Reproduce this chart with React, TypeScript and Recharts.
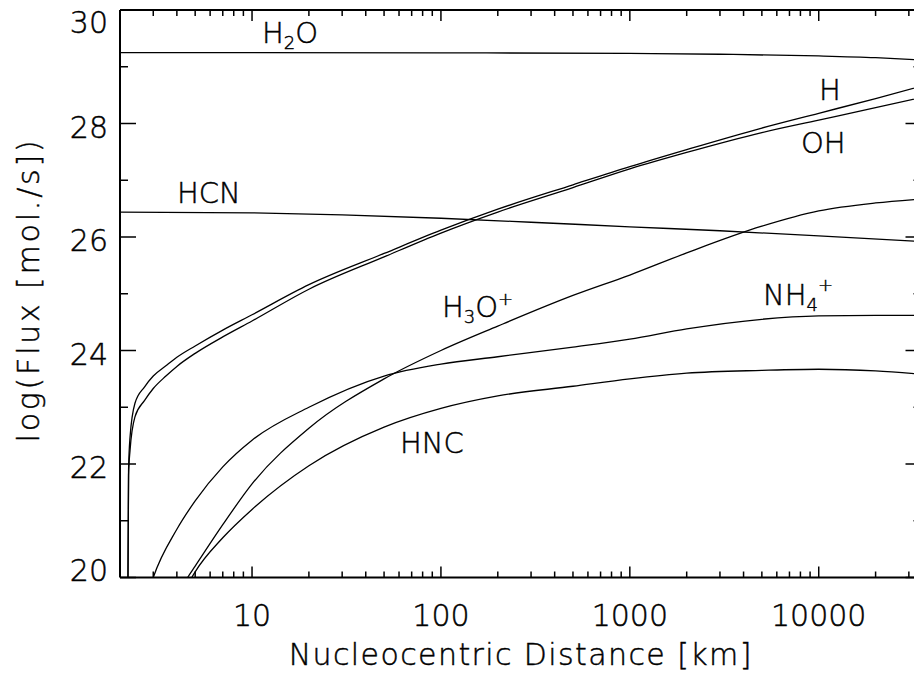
import React from 'react'
import { LineChart, Line, XAxis, YAxis } from 'recharts'

// nucleocentric distance [km] vs log flux [mol./s], one array per species
const H2O: [number, number][] = [[2, 29.25], [10, 29.25], [100, 29.245], [1000, 29.235], [3000, 29.22], [10000, 29.19], [20000, 29.16], [35000, 29.12]]
const HCN: [number, number][] = [[2, 26.44], [10, 26.425], [30, 26.39], [100, 26.33], [300, 26.26], [1000, 26.18], [3000, 26.11], [10000, 26.02], [35000, 25.92]]
const H: [number, number][] = [[2.2, 19.5], [2.22, 21.9], [2.26, 22.47], [2.4, 23.07], [2.7, 23.36], [3, 23.55], [3.5, 23.73], [4, 23.88], [5, 24.08], [7, 24.36], [10, 24.63], [20, 25.16], [50, 25.71], [100, 26.12], [200, 26.49], [500, 26.92], [1000, 27.24], [2000, 27.54], [5000, 27.92], [10000, 28.18], [20000, 28.44], [35000, 28.66]]
const OH: [number, number][] = [[2.2, 19.5], [2.22, 21.8], [2.26, 22.24], [2.4, 22.83], [2.7, 23.12], [3, 23.33], [3.5, 23.55], [4, 23.72], [5, 23.95], [7, 24.24], [10, 24.52], [20, 25.08], [50, 25.65], [100, 26.07], [200, 26.44], [500, 26.87], [1000, 27.2], [2000, 27.49], [5000, 27.84], [10000, 28.06], [20000, 28.28], [35000, 28.46]]
const H3O: [number, number][] = [[4.2, 19.8], [4.56, 20], [5, 20.2], [7, 20.93], [10, 21.65], [20, 22.63], [50, 23.5], [100, 24.0], [200, 24.43], [500, 24.97], [1000, 25.33], [2000, 25.72], [5000, 26.19], [10000, 26.46], [20000, 26.6], [35000, 26.67]]
const NH4: [number, number][] = [[2.9, 19.85], [3, 20], [4, 20.85], [5, 21.35], [7, 21.95], [10, 22.42], [20, 23.0], [50, 23.55], [100, 23.76], [200, 23.89], [500, 24.06], [1000, 24.2], [2000, 24.38], [5000, 24.55], [10000, 24.61], [20000, 24.62], [35000, 24.62]]
const HNC: [number, number][] = [[4.6, 19.85], [4.8, 20], [5, 20.1], [7, 20.7], [10, 21.2], [20, 21.97], [50, 22.65], [100, 22.98], [200, 23.2], [500, 23.37], [1000, 23.5], [2000, 23.6], [5000, 23.65], [10000, 23.67], [20000, 23.64], [35000, 23.58]]

const xMajor = [10, 100, 1000, 10000]
const xTicks = [3, 4, 5, 6, 7, 8, 9, 10, 20, 30, 40, 50, 60, 70, 80, 90, 100, 200, 300, 400, 500, 600, 700, 800, 900,
  1000, 2000, 3000, 4000, 5000, 6000, 7000, 8000, 9000, 10000, 20000, 30000]
const yMajor = [20, 22, 24, 26, 28, 30]
const yTicks = [20, 21, 22, 23, 24, 25, 26, 27, 28, 29, 30]

const series = [H2O, HCN, H, OH, H3O, NH4, HNC]
const toPoints = (pts: [number, number][]) => pts.map(([d, f]) => ({ d, f }))

const font = "'DejaVu Sans', sans-serif"
const ink = '#000'
const txt = { fontFamily: font, fontWeight: 200, fill: ink, stroke: ink, strokeWidth: 0.45 } as const

const BottomTick = ({ x, y, payload }: any) => {
  const major = xMajor.includes(payload.value)
  return (
    <g>
      <line x1={x} x2={x} y1={y} y2={y - (major ? 11 : 6)} stroke={ink} strokeWidth={1.5} />
      {major && (
        <text x={x} y={y + 48} textAnchor="middle" fontSize={30} {...txt}>
          {payload.value}
        </text>
      )}
    </g>
  )
}

const TopTick = ({ x, y, payload }: any) => {
  const major = xMajor.includes(payload.value)
  return <line x1={x} x2={x} y1={y} y2={y + (major ? 11 : 6)} stroke={ink} strokeWidth={1.5} />
}

// the end labels are nudged inside the frame
const yLabelShift = (v: number) => (v === 30 ? 23 : v === 20 ? 3 : 14)

const LeftTick = ({ x, y, payload }: any) => {
  const major = yMajor.includes(payload.value)
  return (
    <g>
      <line x1={x} x2={x + (major ? 16 : 8)} y1={y} y2={y} stroke={ink} strokeWidth={1.5} />
      {major && (
        <text x={x - 12} y={y + yLabelShift(payload.value)} textAnchor="end" fontSize={30} {...txt}>
          {payload.value}
        </text>
      )}
    </g>
  )
}

const RightTick = ({ x, y, payload }: any) => {
  const major = yMajor.includes(payload.value)
  return <line x1={x} x2={x - (major ? 16 : 8)} y1={y} y2={y} stroke={ink} strokeWidth={1.5} />
}

const sub = 18

export default function App() {
  return (
    <div style={{ position: 'absolute', left: 0, top: 0, width: 914, height: 678, overflow: 'hidden', background: '#fff' }}>
      <LineChart width={930} height={678} margin={{ top: 0, right: 0, bottom: 0, left: 0 }}>
        <XAxis
          xAxisId="b"
          dataKey="d"
          type="number"
          scale="log"
          domain={[2, 35000]}
          allowDataOverflow
          ticks={xTicks}
          interval={0}
          height={100.5}
          tickSize={0}
          tickMargin={0}
          tickLine={false}
          axisLine={{ stroke: ink, strokeWidth: 2 }}
          tick={<BottomTick />}
          label={{
            content: ({ viewBox }: any) => (
              <text x={viewBox.x + viewBox.width / 2} y={665} textAnchor="middle" fontSize={30} letterSpacing={1.4} {...txt}>
                Nucleocentric Distance [km]
              </text>
            ),
          }}
        />
        <XAxis
          xAxisId="t"
          orientation="top"
          dataKey="d"
          type="number"
          scale="log"
          domain={[2, 35000]}
          allowDataOverflow
          ticks={xTicks}
          interval={0}
          height={10}
          tickSize={0}
          tickMargin={0}
          tickLine={false}
          axisLine={{ stroke: ink, strokeWidth: 2 }}
          tick={<TopTick />}
        />
        <YAxis
          yAxisId="l"
          type="number"
          domain={[20, 30]}
          allowDataOverflow
          ticks={yTicks}
          interval={0}
          width={120}
          tickSize={0}
          tickMargin={0}
          tickLine={false}
          axisLine={{ stroke: ink, strokeWidth: 2 }}
          tick={<LeftTick />}
          label={{
            content: () => (
              <text transform="translate(39,290) rotate(-90)" textAnchor="middle" fontSize={30} letterSpacing={2.8} {...txt}>
                log(Flux [mol./s])
              </text>
            ),
          }}
        />
        <YAxis
          yAxisId="r"
          orientation="right"
          type="number"
          domain={[20, 30]}
          allowDataOverflow
          ticks={yTicks}
          interval={0}
          width={8.5}
          tickSize={0}
          tickMargin={0}
          tickLine={false}
          axisLine={{ stroke: ink, strokeWidth: 2 }}
          tick={<RightTick />}
        />
        {series.map((s, i) => (
          <Line
            key={i}
            xAxisId="b"
            yAxisId="l"
            data={toPoints(s)}
            dataKey="f"
            type="monotone"
            stroke={ink}
            strokeWidth={1.3}
            dot={false}
            activeDot={false}
            isAnimationActive={false}
          />
        ))}
        <text x={262} y={43} fontSize={29} {...txt}>H<tspan fontSize={sub} dy={6}>2</tspan><tspan dy={-6}>O</tspan></text>
        <text x={819} y={100} fontSize={29} {...txt}>H</text>
        <text x={801} y={153} fontSize={29} {...txt}>OH</text>
        <text x={177} y={203} fontSize={29} {...txt}>HCN</text>
        <text x={442} y={317} fontSize={29} {...txt}>H<tspan fontSize={sub} dy={6}>3</tspan><tspan dy={-6}>O</tspan><tspan fontSize={sub} dy={-12}>+</tspan></text>
        <text x={763} y={305} fontSize={29} {...txt}>NH<tspan fontSize={sub} dy={6}>4</tspan><tspan fontSize={sub} dy={-20}>+</tspan></text>
        <text x={400} y={453} fontSize={29} {...txt}>HNC</text>
      </LineChart>
    </div>
  )
}
